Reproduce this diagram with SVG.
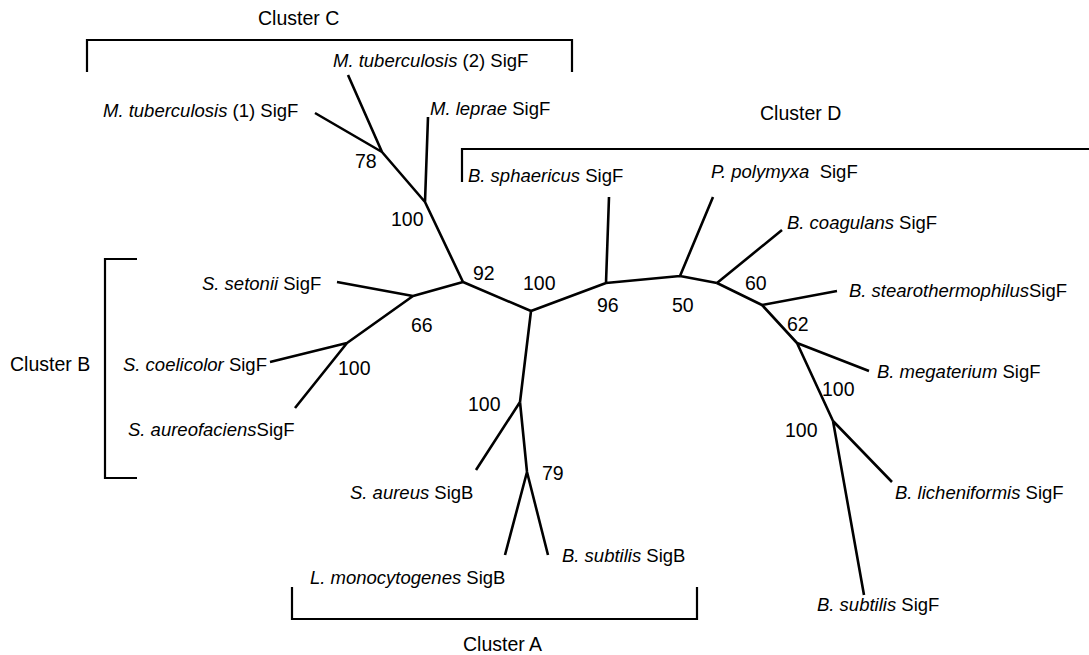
<svg xmlns="http://www.w3.org/2000/svg" width="1089" height="655" viewBox="0 0 1089 655">
<style>
.e{stroke:#000;stroke-width:2.6;stroke-linecap:butt;fill:none}
.b{stroke:#000;stroke-width:2.2;fill:none}
.lab{font-family:"Liberation Sans",Arial,sans-serif;font-size:18.5px;fill:#000}
.num{font-family:"Liberation Sans",Arial,sans-serif;font-size:19.5px;fill:#000}
.cl{font-family:"Liberation Sans",Arial,sans-serif;font-size:19.5px;fill:#000}
.i{font-style:italic}
</style>
<rect width="1089" height="655" fill="#fff"/>
<g id="connectors">
<path class="e" d="M315,113L382,152M348,75L382,152M382,152L425,202M428,117L425,202M425,202L463,282"/>
<path class="e" d="M463,282L413,296M337,282L413,296M413,296L347,343M270,362L347,343M347,343L295,408"/>
<path class="e" d="M463,282L531,311M531,311L520,402M520,402L476,470M520,402L527,472M527,472L505,555M527,472L548,555"/>
<path class="e" d="M531,311L606,283M609,197L606,283M606,283L680,276M713,197L680,276M680,276L717,283M782,230L717,283"/>
<path class="e" d="M717,283L762,305M762,305L837,291M762,305L797,343M797,343L869,371M797,343L833,421M833,421L892,482M833,421L864,595"/>
</g>
<g id="clusterC"><path class="b" d="M87,72V40H572V72"/><text class="cl" x="258" y="25">Cluster C</text></g>
<g id="clusterD"><path class="b" d="M462,182V149H1089"/><text class="cl" x="760" y="120">Cluster D</text></g>
<g id="clusterB"><path class="b" d="M137,259H105V478H137"/><text class="cl" x="10" y="371">Cluster B</text></g>
<g id="clusterA"><path class="b" d="M292,587V619H697V587"/><text class="cl" x="463" y="651">Cluster A</text></g>
<g id="mtub1"><text class="lab" x="103" y="117"><tspan class="i">M. tuberculosis</tspan> (1) SigF</text></g>
<g id="mtub2"><text class="lab" x="333" y="67"><tspan class="i">M. tuberculosis</tspan> (2) SigF</text></g>
<g id="mlep"><text class="lab" x="430" y="115"><tspan class="i">M. leprae</tspan> SigF</text></g>
<g id="bsph"><text class="lab" x="468" y="182"><tspan class="i">B. sphaericus</tspan> SigF</text></g>
<g id="ppol"><text class="lab" x="711" y="178" xml:space="preserve"><tspan class="i">P. polymyxa</tspan>  SigF</text></g>
<g id="bcoa"><text class="lab" x="787" y="229"><tspan class="i">B. coagulans</tspan> SigF</text></g>
<g id="bste"><text class="lab" x="849" y="297"><tspan class="i">B. stearothermophilus</tspan>SigF</text></g>
<g id="bmeg"><text class="lab" x="877" y="378"><tspan class="i">B. megaterium</tspan> SigF</text></g>
<g id="blic"><text class="lab" x="895" y="499"><tspan class="i">B. licheniformis</tspan> SigF</text></g>
<g id="bsubF"><text class="lab" x="817" y="611"><tspan class="i">B. subtilis</tspan> SigF</text></g>
<g id="bsubB"><text class="lab" x="562" y="562"><tspan class="i">B. subtilis</tspan> SigB</text></g>
<g id="lmon"><text class="lab" x="310" y="584"><tspan class="i">L. monocytogenes</tspan> SigB</text></g>
<g id="saur"><text class="lab" x="350" y="499"><tspan class="i">S. aureus</tspan> SigB</text></g>
<g id="sset"><text class="lab" x="202" y="290"><tspan class="i">S. setonii</tspan> SigF</text></g>
<g id="scoe"><text class="lab" x="123" y="371"><tspan class="i">S. coelicolor</tspan> SigF</text></g>
<g id="saurf"><text class="lab" x="128" y="436"><tspan class="i">S. aureofaciens</tspan>SigF</text></g>
<g id="bootstrap">
<text class="num" x="355" y="168">78</text>
<text class="num" x="391" y="226">100</text>
<text class="num" x="473" y="280">92</text>
<text class="num" x="523" y="290">100</text>
<text class="num" x="411" y="332">66</text>
<text class="num" x="338" y="375">100</text>
<text class="num" x="468" y="411">100</text>
<text class="num" x="542" y="480">79</text>
<text class="num" x="597" y="312">96</text>
<text class="num" x="672" y="312">50</text>
<text class="num" x="745" y="290">60</text>
<text class="num" x="787" y="331">62</text>
<text class="num" x="822" y="396">100</text>
<text class="num" x="785" y="437">100</text>
</g>
</svg>
